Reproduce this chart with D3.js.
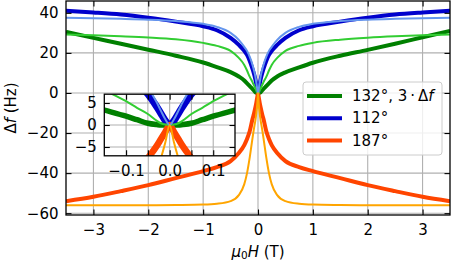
<!DOCTYPE html>
<html>
<head>
<meta charset="utf-8">
<script src="https://cdn.jsdelivr.net/npm/d3@7"></script>
<style>
body { margin: 0; background: #fff; }
svg { font-family: "DejaVu Sans", sans-serif; display: block; }
</style>
</head>
<body>
<svg id="chart"></svg>
<script>
var width = 451, height = 260;

// field values (T) shared by all sweeps
var field = [-3.5, -3, -2.5, -2, -1.5, -1, -0.75, -0.5, -0.35, -0.25, -0.2, -0.15, -0.1, -0.075, -0.05, -0.03, -0.02, -0.01,
  0, 0.01, 0.02, 0.03, 0.05, 0.075, 0.1, 0.15, 0.2, 0.25, 0.35, 0.5, 0.75, 1, 1.5, 2, 2.5, 3, 3.5];

// frequency shift (Hz)
var green132 = [30.5, 27.5, 24.6, 21.6, 18.6, 15.2, 12.9, 10.4, 8.2, 6.2, 4.8, 3.4, 2.0, 1.2, 0.4, 0.1, 0, 0,
  0, 0, 0, 0.1, 0.4, 1.2, 2.0, 3.4, 4.8, 6.2, 8.2, 10.3, 12.8, 15.1, 18.6, 21.5, 24.6, 27.8, 31.0];
var lime132 = [29.2, 28.8, 28.3, 27.7, 26.8, 25.0, 23.5, 21.0, 17.5, 14.0, 11.2, 8.0, 5.4, 3.9, 2.5, 1.0, 0.4, 0.1,
  0, 0.1, 0.4, 1.0, 2.5, 3.9, 5.4, 8.0, 11.2, 14.0, 17.5, 21.0, 23.5, 25.0, 26.6, 27.6, 28.3, 28.8, 29.2];
var blue112 = [41.0, 40.2, 39.2, 37.6, 35.6, 33.3, 31.3, 27.5, 24.0, 21.0, 19.0, 16.0, 12.0, 9.7, 7.0, 4.2, 2.6, 1.0,
  0, 1.0, 2.6, 4.2, 7.0, 9.7, 12.0, 16.0, 19.0, 21.0, 24.0, 27.5, 31.3, 33.3, 35.6, 37.6, 39.2, 40.2, 41.0];
var cornflower112 = [37.5, 37.3, 37.0, 36.6, 35.9, 34.5, 33.0, 30.0, 26.5, 23.0, 21.0, 18.0, 14.0, 11.5, 8.5, 5.2, 3.2, 1.3,
  0, 1.3, 3.2, 5.2, 8.5, 11.5, 14.0, 18.0, 21.0, 23.0, 26.5, 30.0, 33.0, 34.5, 35.9, 36.6, 37.0, 37.3, 37.5];
var orangered187 = [-54.0, -51.8, -49.0, -46.0, -42.5, -39.0, -37.0, -34.0, -30.0, -26.0, -23.0, -19.0, -13.0, -10.5, -7.5, -4.8, -3.2, -1.6,
  0, -1.6, -3.2, -4.8, -7.5, -10.5, -13.0, -19.0, -23.0, -26.0, -30.0, -34.0, -37.0, -39.0, -42.5, -46.0, -49.0, -51.8, -54.0];
var orange187 = [-56.0, -56.0, -56.0, -56.0, -55.9, -55.7, -55.3, -54.0, -51.0, -45.5, -40.0, -32.0, -22.5, -18.0, -14.0, -10.0, -7.5, -4.0,
  0, -4.0, -7.5, -10.0, -14.0, -18.0, -22.5, -32.0, -40.0, -45.5, -51.0, -54.0, -55.3, -55.7, -55.9, -56.0, -56.0, -56.0, -56.0];

var xTicks = [-3, -2, -1, 0, 1, 2, 3];
var yTicks = [-60, -40, -20, 0, 20, 40];
var insetXTicks = [-0.1, -0.05, 0, 0.05, 0.1];
var insetYTicks = [-5, 0, 5];

var series = [
  {values: green132, color: "#008000", w: 4, wi: 5.5},
  {values: blue112, color: "#0000cd", w: 4, wi: 7},
  {values: orangered187, color: "#ff4500", w: 4, wi: 6.5},
  {values: lime132, color: "#32cd32", w: 2, wi: 2},
  {values: cornflower112, color: "#6495ed", w: 2, wi: 2},
  {values: orange187, color: "#ffa500", w: 2, wi: 2}
];
var legendItems = [
  {color: "#008000", label: "132°, 3\u2009·\u2009Δ", italic: "f"},
  {color: "#0000cd", label: "112°", italic: ""},
  {color: "#ff4500", label: "187°", italic: ""}
];

var svg = d3.select("#chart").attr("width", width).attr("height", height);
var fontSize = "15px";

function drawPanel(g, x, y, clipId) {
  var x0 = x.range()[0], x1 = x.range()[1], y0 = y.range()[1], y1 = y.range()[0];
  g.append("rect").attr("x", x0).attr("y", y0).attr("width", x1 - x0).attr("height", y1 - y0).attr("fill", "#fff");
  g.append("clipPath").attr("id", clipId).append("rect")
    .attr("x", x0).attr("y", y0).attr("width", x1 - x0).attr("height", y1 - y0);
  return {x0: x0, x1: x1, y0: y0, y1: y1};
}

function drawGrid(g, x, y, xt, yt, box) {
  g.selectAll(null).data(xt).enter().append("line")
    .attr("x1", function(d) { return x(d); }).attr("x2", function(d) { return x(d); })
    .attr("y1", box.y0).attr("y2", box.y1)
    .attr("stroke", "#b0b0b0").attr("stroke-width", 1.1);
  g.selectAll(null).data(yt).enter().append("line")
    .attr("y1", function(d) { return y(d); }).attr("y2", function(d) { return y(d); })
    .attr("x1", box.x0).attr("x2", box.x1)
    .attr("stroke", "#b0b0b0").attr("stroke-width", 1.1);
}

function drawLines(g, x, y, clipId, widthKey) {
  var line = d3.line()
    .x(function(d, i) { return x(field[i]); })
    .y(function(d) { return y(d); })
    .curve(d3.curveMonotoneX);
  var lg = g.append("g").attr("clip-path", "url(#" + clipId + ")");
  series.forEach(function(s) {
    lg.append("path")
      .attr("d", line(s.values))
      .attr("fill", "none")
      .attr("stroke", s.color)
      .attr("stroke-width", s[widthKey])
      .attr("stroke-linejoin", "round");
  });
}

function drawAxes(g, x, y, xt, yt, box, xfmt, yfmt) {
  var tl = 5.5;
  g.append("g").attr("transform", "translate(0," + box.y1 + ")")
    .call(d3.axisBottom(x).tickValues(xt).tickSizeInner(-tl).tickSizeOuter(0).tickPadding(9.5).tickFormat(xfmt));
  g.append("g").attr("transform", "translate(0," + box.y0 + ")")
    .call(d3.axisTop(x).tickValues(xt).tickSizeInner(-tl).tickSizeOuter(0).tickFormat(""));
  g.append("g").attr("transform", "translate(" + box.x0 + ",0)")
    .call(d3.axisLeft(y).tickValues(yt).tickSizeInner(-tl).tickSizeOuter(0).tickPadding(7.5).tickFormat(yfmt));
  g.append("g").attr("transform", "translate(" + box.x1 + ",0)")
    .call(d3.axisRight(y).tickValues(yt).tickSizeInner(-tl).tickSizeOuter(0).tickFormat(""));
  g.selectAll(".domain").remove();
  g.selectAll(".tick line").attr("stroke", "#000").attr("stroke-width", 1.1);
  g.selectAll(".tick text").attr("font-size", fontSize).attr("fill", "#000")
    .attr("font-family", "DejaVu Sans, sans-serif");
  g.append("rect").attr("x", box.x0).attr("y", box.y0)
    .attr("width", box.x1 - box.x0).attr("height", box.y1 - box.y0)
    .attr("fill", "none").attr("stroke", "#000").attr("stroke-width", 1.3);
}

// main panel
var xMain = d3.scaleLinear().domain([-3.5, 3.5]).range([66, 450]);
var yMain = d3.scaleLinear().domain([-60.9, 45.9]).range([215, 1]);
var mainG = svg.append("g");
var mainBox = drawPanel(mainG, xMain, yMain, "clipMain");
drawGrid(mainG, xMain, yMain, xTicks, yTicks, mainBox);
drawLines(mainG, xMain, yMain, "clipMain", "w");
drawAxes(mainG, xMain, yMain, xTicks, yTicks, mainBox, d3.format("d"), d3.format("d"));

// axis titles
var xt = svg.append("text").attr("x", 258).attr("y", 256.5).attr("text-anchor", "middle")
  .attr("font-size", fontSize);
xt.append("tspan").attr("font-style", "italic").text("μ");
xt.append("tspan").attr("font-size", "10.5px").attr("dy", 2.5).text("0");
xt.append("tspan").attr("font-style", "italic").attr("dy", -2.5).text("H");
xt.append("tspan").text(" (T)");

var yt = svg.append("text").attr("transform", "translate(11,108) rotate(-90)")
  .attr("text-anchor", "middle").attr("font-size", fontSize).attr("dominant-baseline", "central");
yt.append("tspan").text("Δ");
yt.append("tspan").attr("font-style", "italic").text("f");
yt.append("tspan").text(" (Hz)");

// legend
var legend = svg.append("g");
legend.append("rect").attr("x", 303).attr("y", 82).attr("width", 139).attr("height", 73)
  .attr("rx", 3).attr("fill", "#fff").attr("fill-opacity", 0.8)
  .attr("stroke", "#cccccc").attr("stroke-width", 1);
legendItems.forEach(function(d, i) {
  var ly = 96 + i * 22.3;
  legend.append("line").attr("x1", 307).attr("x2", 342).attr("y1", ly).attr("y2", ly)
    .attr("stroke", d.color).attr("stroke-width", 4);
  var t = legend.append("text").attr("x", 352).attr("y", ly).attr("dominant-baseline", "central")
    .attr("font-size", fontSize);
  t.append("tspan").text(d.label);
  if (d.italic) t.append("tspan").attr("font-style", "italic").text(d.italic);
});

// inset
var xIn = d3.scaleLinear().domain([-0.15, 0.15]).range([104.3, 235]);
var yIn = d3.scaleLinear().domain([-7, 7]).range([155.8, 94.2]);
var inG = svg.append("g");
var inBox = drawPanel(inG, xIn, yIn, "clipInset");
drawGrid(inG, xIn, yIn, insetXTicks, insetYTicks, inBox);
drawLines(inG, xIn, yIn, "clipInset", "wi");
var f1 = d3.format(".1f");
drawAxes(inG, xIn, yIn, insetXTicks, insetYTicks, inBox,
  function(d) { return Math.abs(d * 10 - Math.round(d * 10)) < 1e-9 ? f1(d) : ""; },
  d3.format("d"));
</script>
</body>
</html>
